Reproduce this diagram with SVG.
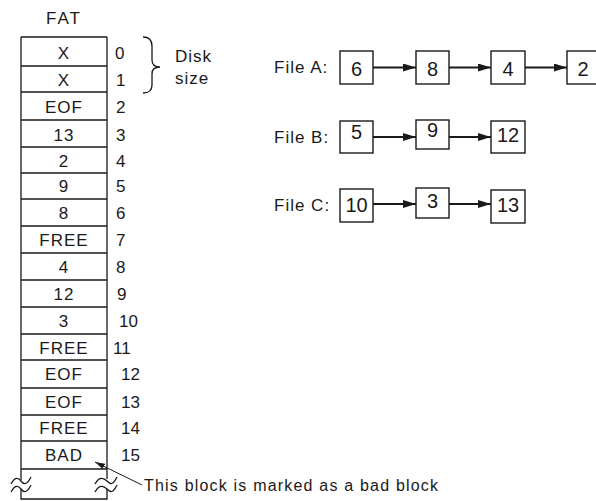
<svg xmlns="http://www.w3.org/2000/svg" width="596" height="501" viewBox="0 0 596 501">
<defs>
<style>
text{font-family:"Liberation Sans",Arial,sans-serif;fill:#1a1a1a}
.cell{font-size:17px;text-anchor:middle;letter-spacing:1px}
.idx{font-size:17px}
.lbl{font-size:17px;letter-spacing:1px}
.num{font-size:20px;text-anchor:middle}
.ln{stroke:#1a1a1a;stroke-width:1.3;fill:none}
.box{stroke:#1a1a1a;stroke-width:1.4;fill:#fff}
.arr{stroke:#1a1a1a;stroke-width:2.2;fill:none}
</style>
<marker id="ah" viewBox="0 0 13 8" refX="13" refY="4" markerWidth="13" markerHeight="8" markerUnits="userSpaceOnUse" orient="auto">
<path d="M0,0 L13,4 L0,8 Z" fill="#1a1a1a"/>
</marker>
<marker id="ah2" viewBox="0 0 10 6" refX="10" refY="3" markerWidth="10" markerHeight="6" markerUnits="userSpaceOnUse" orient="auto">
<path d="M0,0 L10,3 L0,6 Z" fill="#1a1a1a"/>
</marker>
</defs>
<rect width="596" height="501" fill="#fff"/>

<g id="fat">
<text x="64" y="24" class="cell" style="letter-spacing:2px">FAT</text>
<path class="ln" d="M21,37 H107 M21,37 V480 M107,37 V479 M21,489 V499 H107 V489"/>
<path class="ln" d="M21,66 H107 M21,92 H107 M21,120 H107 M21,147 H107 M21,173 H107 M21,199 H107 M21,226 H107 M21,253 H107 M21,280 H107 M21,307 H107 M21,334 H107 M21,360 H107 M21,388 H107 M21,415 H107 M21,441 H107 M21,469 H107"/>
<path class="ln" d="M11,484 C15,477 18,477 21,481 S27,485 31,477 M11,492 C15,485 18,485 21,489 S27,493 31,485"/>
<path class="ln" d="M95,484 C99,477 103,477 107,481 S113,485 117,477 M95,492 C99,485 103,485 107,489 S113,493 117,485"/>
<text x="64" y="59" class="cell">X</text>
<text x="64" y="86" class="cell">X</text>
<text x="64" y="113" class="cell">EOF</text>
<text x="64" y="141" class="cell">13</text>
<text x="64" y="167" class="cell">2</text>
<text x="64" y="192" class="cell">9</text>
<text x="64" y="219" class="cell">8</text>
<text x="64" y="246" class="cell">FREE</text>
<text x="64" y="273" class="cell">4</text>
<text x="64" y="300" class="cell">12</text>
<text x="64" y="327" class="cell">3</text>
<text x="64" y="354" class="cell">FREE</text>
<text x="64" y="380" class="cell">EOF</text>
<text x="64" y="408" class="cell">EOF</text>
<text x="64" y="434" class="cell">FREE</text>
<text x="64" y="461" class="cell">BAD</text>
<text x="115" y="59" class="idx">0</text>
<text x="116" y="86" class="idx">1</text>
<text x="116" y="113" class="idx">2</text>
<text x="116" y="141" class="idx">3</text>
<text x="116" y="167" class="idx">4</text>
<text x="116" y="192" class="idx">5</text>
<text x="116" y="219" class="idx">6</text>
<text x="116" y="246" class="idx">7</text>
<text x="116" y="273" class="idx">8</text>
<text x="117" y="300" class="idx">9</text>
<text x="119" y="327" class="idx">10</text>
<text x="113" y="354" class="idx">11</text>
<text x="121" y="380" class="idx">12</text>
<text x="121" y="408" class="idx">13</text>
<text x="121" y="434" class="idx">14</text>
<text x="121" y="461" class="idx">15</text>
</g>

<g id="disk-size">
<path class="ln" d="M143,37 Q152,37 152,46 L152,60 Q152,67 160,67 Q152,67 152,74 L152,85 Q152,93 143,93"/>
<text x="175" y="62" class="lbl">Disk</text>
<text x="175" y="84" class="lbl">size</text>
</g>

<g id="bad-note">
<text x="144" y="491" style="font-size:16px" textLength="294" lengthAdjust="spacing">This block is marked as a bad block</text>
</g>

<g id="file-a">
<text x="274" y="73" class="lbl">File A:</text>
<rect class="box" x="340" y="51" width="33" height="33"/><text x="356.5" y="76" class="num">6</text>
<rect class="box" x="416" y="51" width="33" height="33"/><text x="432.5" y="76" class="num">8</text>
<rect class="box" x="491" y="51" width="34" height="33"/><text x="508" y="76" class="num">4</text>
<rect class="box" x="567" y="51" width="34" height="33"/><text x="583" y="76" class="num">2</text>
</g>
<g id="file-b">
<text x="274" y="143" class="lbl">File B:</text>
<rect class="box" x="340" y="121" width="33" height="32"/><text x="356.5" y="139" class="num">5</text>
<rect class="box" x="416" y="120" width="33" height="29"/><text x="432.5" y="137" class="num">9</text>
<rect class="box" x="491" y="121" width="34" height="32"/><text x="508" y="142" class="num">12</text>
</g>
<g id="file-c">
<text x="274" y="211" class="lbl">File C:</text>
<rect class="box" x="340" y="189" width="33" height="33"/><text x="356.5" y="212" class="num">10</text>
<rect class="box" x="416" y="188" width="33" height="30"/><text x="432.5" y="208" class="num">3</text>
<rect class="box" x="491" y="190" width="34" height="33"/><text x="508" y="212" class="num">13</text>
</g>

<g id="connectors">
<line class="arr" x1="373" y1="67.5" x2="416" y2="67.5" marker-end="url(#ah)"/>
<line class="arr" x1="449" y1="67.5" x2="491" y2="67.5" marker-end="url(#ah)"/>
<line class="arr" x1="525" y1="67.5" x2="567" y2="67.5" marker-end="url(#ah)"/>
<line class="arr" x1="373" y1="137" x2="416" y2="137" marker-end="url(#ah)"/>
<line class="arr" x1="449" y1="137" x2="491" y2="137" marker-end="url(#ah)"/>
<line class="arr" x1="373" y1="204" x2="416" y2="204" marker-end="url(#ah)"/>
<line class="arr" x1="449" y1="204" x2="491" y2="204" marker-end="url(#ah)"/>
<line class="ln" style="stroke-width:1" x1="142" y1="485" x2="95" y2="462" marker-end="url(#ah2)"/>
</g>
</svg>
